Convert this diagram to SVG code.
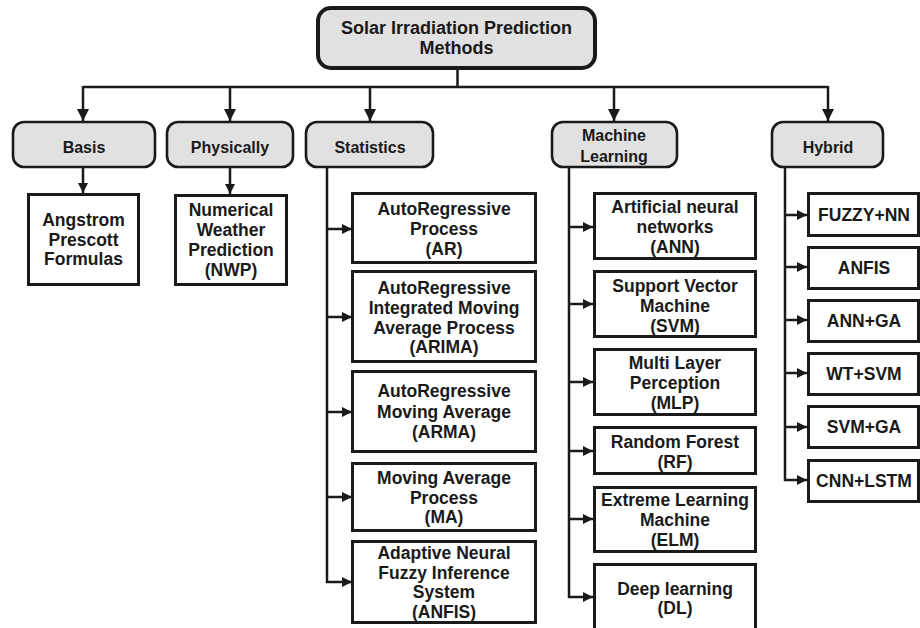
<svg xmlns="http://www.w3.org/2000/svg" width="920" height="628" viewBox="0 0 920 628">
<style>
text{font-family:"Liberation Sans",Arial,sans-serif;font-weight:bold;fill:#1a1a1a;text-anchor:middle}
.t{font-size:17.5px}
.c{font-size:16px}
.h{font-size:18px}
.root{fill:#e1e1e1;stroke:#1a1a1a;stroke-width:4}
.cat{fill:#e1e1e1;stroke:#1a1a1a;stroke-width:2.6}
.leaf{fill:#fff;stroke:#1a1a1a;stroke-width:3}
.ln{fill:none;stroke:#1a1a1a;stroke-width:2.5}
</style>
<defs>
<marker id="big" viewBox="0 0 12 12" refX="12" refY="6" markerUnits="userSpaceOnUse" markerWidth="12" markerHeight="13" orient="auto"><path d="M0,0 L12,6 L0,12 z" fill="#1a1a1a"/></marker>
<marker id="sm" viewBox="0 0 10 10" refX="10" refY="5" markerUnits="userSpaceOnUse" markerWidth="10" markerHeight="10" orient="auto"><path d="M0,0 L10,5 L0,10 z" fill="#1a1a1a"/></marker>
</defs>
<rect width="920" height="628" fill="#fff"/>
<g id="connectors">
<path class="ln" d="M457.5,68 V87 M83,87 H828"/>
<path class="ln" d="M83,86 V121" marker-end="url(#big)"/>
<path class="ln" d="M230,86 V121" marker-end="url(#big)"/>
<path class="ln" d="M370,86 V121" marker-end="url(#big)"/>
<path class="ln" d="M614,86 V121" marker-end="url(#big)"/>
<path class="ln" d="M828,86 V121" marker-end="url(#big)"/>
<path class="ln" d="M83,167 V193" marker-end="url(#sm)"/>
<path class="ln" d="M230,167 V194" marker-end="url(#sm)"/>
<path class="ln" d="M327,167 V582 H352" marker-end="url(#sm)"/>
<path class="ln" d="M327,229 H352" marker-end="url(#sm)"/>
<path class="ln" d="M327,317 H352" marker-end="url(#sm)"/>
<path class="ln" d="M327,412 H352" marker-end="url(#sm)"/>
<path class="ln" d="M327,497 H352" marker-end="url(#sm)"/>
<path class="ln" d="M569,167 V597 H593" marker-end="url(#sm)"/>
<path class="ln" d="M569,227 H593" marker-end="url(#sm)"/>
<path class="ln" d="M569,304 H593" marker-end="url(#sm)"/>
<path class="ln" d="M569,382 H593" marker-end="url(#sm)"/>
<path class="ln" d="M569,451 H593" marker-end="url(#sm)"/>
<path class="ln" d="M569,519 H593" marker-end="url(#sm)"/>
<path class="ln" d="M785,167 V480 H807" marker-end="url(#sm)"/>
<path class="ln" d="M785,215 H807" marker-end="url(#sm)"/>
<path class="ln" d="M785,267 H807" marker-end="url(#sm)"/>
<path class="ln" d="M785,320 H807" marker-end="url(#sm)"/>
<path class="ln" d="M785,373 H807" marker-end="url(#sm)"/>
<path class="ln" d="M785,427 H807" marker-end="url(#sm)"/>
</g>
<g id="root"><rect class="root" x="318" y="8" width="277" height="60" rx="13"/><text class="h" x="456.5" y="34">Solar Irradiation Prediction</text><text class="h" x="456.5" y="54">Methods</text></g>
<g id="basis"><rect class="cat" x="13" y="122" width="142" height="45" rx="11"/><text class="c" x="84" y="153">Basis</text></g>
<g id="physically"><rect class="cat" x="167" y="122" width="126" height="45" rx="11"/><text class="c" x="230" y="153">Physically</text></g>
<g id="statistics"><rect class="cat" x="306" y="122" width="127" height="45" rx="11"/><text class="c" x="370" y="153">Statistics</text></g>
<g id="ml"><rect class="cat" x="552" y="122" width="125" height="45" rx="11"/><text class="c" x="614" y="141">Machine</text><text class="c" x="614" y="162">Learning</text></g>
<g id="hybrid"><rect class="cat" x="772" y="122" width="111" height="45" rx="11"/><text class="c" x="828" y="153">Hybrid</text></g>
<g id="angstrom"><rect class="leaf" x="28.5" y="194.5" width="110" height="90"/><text class="t" x="83.5" y="226">Angstrom</text><text class="t" x="83.5" y="246">Prescott</text><text class="t" x="83.5" y="265">Formulas</text></g>
<g id="nwp"><rect class="leaf" x="175.5" y="195.5" width="111" height="89"/><text class="t" x="231" y="216">Numerical</text><text class="t" x="231" y="236">Weather</text><text class="t" x="231" y="256">Prediction</text><text class="t" x="231" y="276">(NWP)</text></g>
<g id="ar"><rect class="leaf" x="352.5" y="193.5" width="183" height="69"/><text class="t" x="444" y="215">AutoRegressive</text><text class="t" x="444" y="235">Process</text><text class="t" x="444" y="255">(AR)</text></g>
<g id="arima"><rect class="leaf" x="352.5" y="271.5" width="183" height="90"/><text class="t" x="444" y="294">AutoRegressive</text><text class="t" x="444" y="314">Integrated Moving</text><text class="t" x="444" y="334">Average Process</text><text class="t" x="444" y="353">(ARIMA)</text></g>
<g id="arma"><rect class="leaf" x="352.5" y="371.5" width="183" height="80"/><text class="t" x="444" y="397">AutoRegressive</text><text class="t" x="444" y="418">Moving Average</text><text class="t" x="444" y="438">(ARMA)</text></g>
<g id="ma"><rect class="leaf" x="352.5" y="463.5" width="183" height="67"/><text class="t" x="444" y="484">Moving Average</text><text class="t" x="444" y="504">Process</text><text class="t" x="444" y="523">(MA)</text></g>
<g id="anfis-s"><rect class="leaf" x="352.5" y="541.5" width="183" height="81"/><text class="t" x="444" y="559">Adaptive Neural</text><text class="t" x="444" y="579">Fuzzy Inference</text><text class="t" x="444" y="598">System</text><text class="t" x="444" y="618">(ANFIS)</text></g>
<g id="ann"><rect class="leaf" x="594.5" y="193.5" width="161" height="65"/><text class="t" x="675" y="213">Artificial neural</text><text class="t" x="675" y="233">networks</text><text class="t" x="675" y="253">(ANN)</text></g>
<g id="svm"><rect class="leaf" x="594.5" y="271.5" width="161" height="65"/><text class="t" x="675" y="292">Support Vector</text><text class="t" x="675" y="312">Machine</text><text class="t" x="675" y="332">(SVM)</text></g>
<g id="mlp"><rect class="leaf" x="594.5" y="349.5" width="161" height="65"/><text class="t" x="675" y="369">Multi Layer</text><text class="t" x="675" y="389">Perception</text><text class="t" x="675" y="409">(MLP)</text></g>
<g id="rf"><rect class="leaf" x="594.5" y="427.5" width="161" height="46"/><text class="t" x="675" y="448">Random Forest</text><text class="t" x="675" y="468">(RF)</text></g>
<g id="elm"><rect class="leaf" x="594.5" y="487.5" width="161" height="64"/><text class="t" x="675" y="506">Extreme Learning</text><text class="t" x="675" y="526">Machine</text><text class="t" x="675" y="546">(ELM)</text></g>
<g id="dl"><rect class="leaf" x="594.5" y="564.5" width="161" height="70"/><text class="t" x="675" y="595">Deep learning</text><text class="t" x="675" y="614">(DL)</text></g>
<g id="fuzzynn"><rect class="leaf" x="808.5" y="193.5" width="110" height="42"/><text class="t" x="864" y="221">FUZZY+NN</text></g>
<g id="anfis-h"><rect class="leaf" x="808.5" y="247.5" width="110" height="41"/><text class="t" x="864" y="274">ANFIS</text></g>
<g id="annga"><rect class="leaf" x="808.5" y="300.5" width="110" height="41"/><text class="t" x="864" y="327">ANN+GA</text></g>
<g id="wtsvm"><rect class="leaf" x="808.5" y="353.5" width="110" height="41"/><text class="t" x="864" y="380">WT+SVM</text></g>
<g id="svmga"><rect class="leaf" x="808.5" y="406.5" width="110" height="41"/><text class="t" x="864" y="433">SVM+GA</text></g>
<g id="cnnlstm"><rect class="leaf" x="808.5" y="460.5" width="110" height="41"/><text class="t" x="864" y="487">CNN+LSTM</text></g>
</svg>
